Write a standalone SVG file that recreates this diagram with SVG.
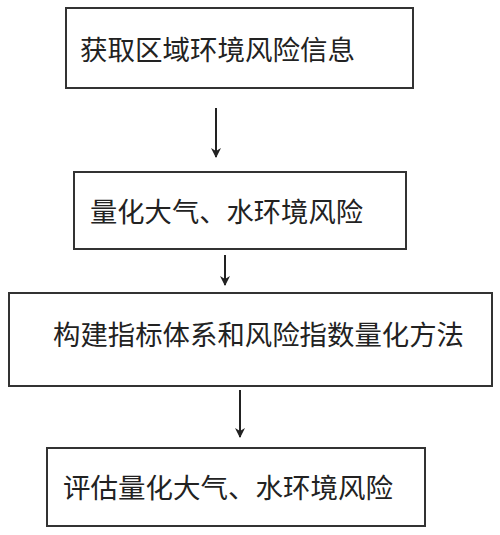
<svg xmlns="http://www.w3.org/2000/svg" width="500" height="535" viewBox="0 0 500 535">
<defs>
<style>
.box{fill:#fff;stroke:#333;stroke-width:2}
.t{font-family:"Noto Sans CJK SC","Noto Sans CJK JP",sans-serif;font-size:27px;fill:#222}
.c{stroke:#222;stroke-width:2;fill:none;marker-end:url(#ah)}
</style>
<marker id="ah" viewBox="0 0 10 10" refX="9" refY="5" markerWidth="5" markerHeight="5" orient="auto" markerUnits="strokeWidth">
<path d="M0,0 L10,5 L0,10 L3,5 Z" fill="#222"/>
</marker>
</defs>
<rect width="500" height="535" fill="#fff"/>
<g id="n1"><rect class="box" x="66" y="8" width="347" height="80"/><text class="t" x="80" y="60" textLength="275" lengthAdjust="spacingAndGlyphs">获取区域环境风险信息</text></g>
<g id="n2"><rect class="box" x="74" y="172" width="332" height="77"/><text class="t" x="90" y="222" textLength="273" lengthAdjust="spacingAndGlyphs">量化大气、水环境风险</text></g>
<g id="n3"><rect class="box" x="9" y="293" width="483" height="93"/><text class="t" x="53" y="345" textLength="411" lengthAdjust="spacingAndGlyphs">构建指标体系和风险指数量化方法</text></g>
<g id="n4"><rect class="box" x="47" y="448" width="378" height="78"/><text class="t" x="63" y="498" textLength="330" lengthAdjust="spacingAndGlyphs">评估量化大气、水环境风险</text></g>
<g id="connectors">
<line class="c" x1="216" y1="108" x2="216" y2="157"/>
<line class="c" x1="225" y1="255" x2="225" y2="285"/>
<line class="c" x1="240" y1="390" x2="240" y2="437"/>
</g>
</svg>
